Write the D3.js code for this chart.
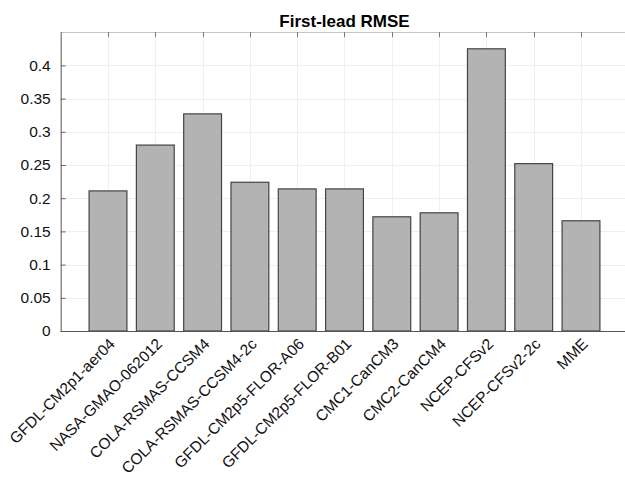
<!DOCTYPE html>
<html>
<head>
<meta charset="utf-8">
<script src="https://cdn.jsdelivr.net/npm/d3@7"></script>
<style>
  html, body { margin: 0; padding: 0; background: #fff; overflow: hidden; }
  svg { display: block; font-family: "Liberation Sans", Arial, Helvetica, sans-serif; }
</style>
</head>
<body>
<svg id="chart" width="625" height="480"></svg>
<script>
// Model names along the x axis
const models = [
  "GFDL-CM2p1-aer04", "NASA-GMAO-062012", "COLA-RSMAS-CCSM4", "COLA-RSMAS-CCSM4-2c",
  "GFDL-CM2p5-FLOR-A06", "GFDL-CM2p5-FLOR-B01", "CMC1-CanCM3", "CMC2-CanCM4",
  "NCEP-CFSv2", "NCEP-CFSv2-2c", "MME"
];
// First-lead RMSE per model
const rmse = [0.211, 0.280, 0.327, 0.224, 0.214, 0.214, 0.172, 0.178, 0.425, 0.252, 0.166];
// Y axis ticks and labels
const yTicks = [0, 0.05, 0.1, 0.15, 0.2, 0.25, 0.3, 0.35, 0.4];
const yTickLabels = ["0", "0.05", "0.1", "0.15", "0.2", "0.25", "0.3", "0.35", "0.4"];
const titleText = "First-lead RMSE";

const svg = d3.select("#chart");
const plotLeft = 60.7, plotRight = 628.3, plotTop = 32.2, plotBottom = 331;

const x = d3.scaleBand().domain(models).range([plotLeft, plotRight])
  .paddingInner(0.2).paddingOuter(0.6);
const y = d3.scaleLinear().domain([0, 0.45]).range([plotBottom, plotTop]);
const xc = d => x(d) + x.bandwidth() / 2;

// Grid
const grid = svg.append("g").attr("stroke", "#efefef").attr("stroke-width", 1);
grid.selectAll("line.h").data(yTicks.slice(1)).join("line")
  .attr("x1", plotLeft).attr("x2", plotRight)
  .attr("y1", d => Math.round(y(d)) + 0.5).attr("y2", d => Math.round(y(d)) + 0.5);
grid.selectAll("line.v").data(models).join("line")
  .attr("y1", plotTop).attr("y2", plotBottom)
  .attr("x1", d => Math.round(xc(d)) + 0.5).attr("x2", d => Math.round(xc(d)) + 0.5);

// Bars
svg.append("g").selectAll("rect").data(models).join("rect")
  .attr("x", d => x(d))
  .attr("width", x.bandwidth())
  .attr("y", (d, i) => y(rmse[i]))
  .attr("height", (d, i) => y(0) - y(rmse[i]))
  .attr("fill", "#b3b3b3")
  .attr("stroke", "#444")
  .attr("stroke-width", 1.2);

// Top border with inward ticks
svg.append("line").attr("x1", plotLeft).attr("x2", plotRight)
  .attr("y1", Math.round(plotTop) + 0.5).attr("y2", Math.round(plotTop) + 0.5)
  .attr("stroke", "#c4c4c4");
svg.append("g").selectAll("line").data(models).join("line")
  .attr("x1", d => Math.round(xc(d)) + 0.5).attr("x2", d => Math.round(xc(d)) + 0.5)
  .attr("y1", plotTop).attr("y2", plotTop + 5)
  .attr("stroke", "#777");

// Left axis
const yAxis = d3.axisLeft(y).tickValues(yTicks)
  .tickFormat((d, i) => yTickLabels[i])
  .tickSizeInner(-5).tickSizeOuter(0).tickPadding(10);
const gy = svg.append("g").attr("transform", `translate(${plotLeft},0)`).call(yAxis);
gy.selectAll(".tick line").attr("stroke", "#666");
gy.selectAll("text").attr("font-size", "15.5px").attr("fill", "#111")
  .attr("font-family", "'Liberation Sans', Arial, sans-serif");
gy.select(".domain").attr("stroke", "#555").attr("d", `M0.5,${plotTop}V${plotBottom}`);

// Bottom axis
const xAxis = d3.axisBottom(x).tickSize(0).tickPadding(0);
const gx = svg.append("g").attr("transform", `translate(0,${plotBottom})`).call(xAxis);
gx.select(".domain").attr("stroke", "#555").attr("d", `M${plotLeft},0.5H${plotRight}`);
gx.selectAll(".tick text")
  .attr("font-size", "15.5px").attr("fill", "#111")
  .attr("font-family", "'Liberation Sans', Arial, sans-serif")
  .attr("text-anchor", "end")
  .attr("dy", "0.72em")
  .attr("y", 0)
  .attr("transform", "translate(0,6) rotate(-45)");

// Title
svg.append("text")
  .attr("x", (plotLeft + plotRight) / 2).attr("y", 26.5)
  .attr("text-anchor", "middle")
  .attr("font-size", "17px").attr("font-weight", "bold").attr("fill", "#000")
  .text(titleText);
</script>
</body>
</html>
